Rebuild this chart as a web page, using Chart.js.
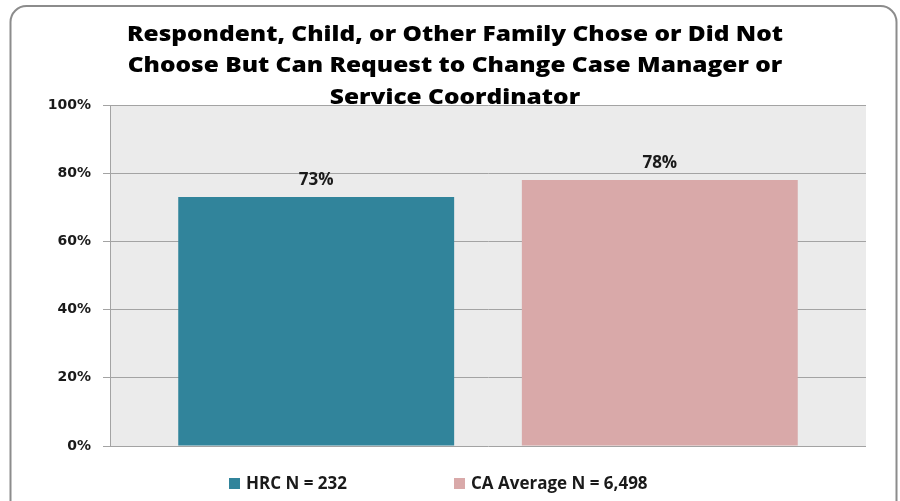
<!DOCTYPE html>
<html>
<head>
<meta charset="utf-8">
<script src="https://cdn.jsdelivr.net/npm/chart.js@4/dist/chart.umd.min.js"></script>
<style>
  html, body { margin: 0; padding: 0; background: #ffffff; }
  canvas { display: block; }
</style>
</head>
<body>
<canvas id="c" width="900" height="501"></canvas>
<script>
const titleLines = [
  "Respondent, Child, or Other Family Chose or Did Not",
  "Choose But Can Request to Change Case Manager or",
  "Service Coordinator"
];
const categories = [""];
const seriesLabels = ["HRC N = 232", "CA Average N = 6,498"];
const hrcValues = [73];
const caValues = [78];
const seriesColors = ["#31849b", "#d9a9a9"];
const yTickValues = [0, 20, 40, 60, 80, 100];

const FONT = "'Open Sans', 'DejaVu Sans', sans-serif";

const decorPlugin = {
  id: 'decor',
  beforeDraw(chart) {
    const ctx = chart.ctx;
    const a = chart.chartArea;
    ctx.save();
    ctx.fillStyle = '#ffffff';
    ctx.fillRect(0, 0, chart.width, chart.height);
    // outer rounded border
    ctx.strokeStyle = '#8c8c8c';
    ctx.lineWidth = 2;
    ctx.beginPath();
    ctx.roundRect(10.5, 6, 886, 520, 16);
    ctx.stroke();
    // plot background
    ctx.fillStyle = '#ebebeb';
    ctx.fillRect(a.left, a.top, a.right - a.left, a.bottom - a.top);
    ctx.restore();
  },
  afterDatasetsDraw(chart) {
    const ctx = chart.ctx;
    ctx.save();
    ctx.fillStyle = '#1a1a1a';
    ctx.font = "bold 17px " + FONT;
    ctx.textAlign = 'center';
    ctx.textBaseline = 'middle';
    chart.data.datasets.forEach((ds, di) => {
      const meta = chart.getDatasetMeta(di);
      meta.data.forEach((bar, i) => {
        ctx.fillText(ds.data[i] + '%', bar.x, bar.y - 17);
      });
    });
    ctx.restore();
  },
  afterDraw(chart) {
    const ctx = chart.ctx;
    ctx.save();
    // title (stretched horizontally to the reference width)
    ctx.fillStyle = '#000000';
    ctx.font = "800 21px " + FONT;
    ctx.textAlign = 'center';
    ctx.textBaseline = 'middle';
    const sx = 656 / ctx.measureText(titleLines[0]).width;
    titleLines.forEach((t, i) => {
      ctx.save();
      ctx.translate(455, 35 + i * 31.3);
      ctx.scale(sx, 1);
      ctx.fillText(t, 0, 0);
      ctx.restore();
    });
    // legend
    ctx.font = "bold 17px " + FONT;
    ctx.textAlign = 'left';
    const legendX = [229, 454];
    chart.data.datasets.forEach((ds, di) => {
      const x = legendX[di];
      ctx.fillStyle = ds.backgroundColor;
      ctx.fillRect(x, 478, 11, 11);
      ctx.fillStyle = '#1a1a1a';
      ctx.fillText(ds.label, x + 17, 484);
    });
    ctx.restore();
  }
};

new Chart(document.getElementById('c'), {
  type: 'bar',
  data: {
    labels: categories,
    datasets: [
      { label: seriesLabels[0], data: hrcValues, backgroundColor: seriesColors[0] },
      { label: seriesLabels[1], data: caValues, backgroundColor: seriesColors[1] }
    ]
  },
  options: {
    responsive: false,
    animation: false,
    devicePixelRatio: 1,
    layout: { padding: { left: 10, right: 34, top: 105, bottom: 55 } },
    datasets: { bar: { categoryPercentage: 0.909, barPercentage: 0.803 } },
    plugins: {
      legend: { display: false },
      title: { display: false },
      tooltip: { enabled: false }
    },
    scales: {
      x: { display: false },
      y: {
        min: 0, max: 100,
        afterFit(scale) { scale.width = 100; },
        afterBuildTicks(scale) { scale.ticks = yTickValues.map(v => ({ value: v })); },
        grid: { color: '#a3a3a3', lineWidth: 1, tickLength: 7, drawTicks: true },
        border: { display: true, color: '#a3a3a3', width: 1 },
        ticks: {
          padding: 12,
          color: '#1a1a1a',
          font: { family: "'DejaVu Sans', sans-serif", weight: 'bold', size: 14 },
          callback: v => v + '%'
        }
      }
    }
  },
  plugins: [decorPlugin]
});
</script>
</body>
</html>
